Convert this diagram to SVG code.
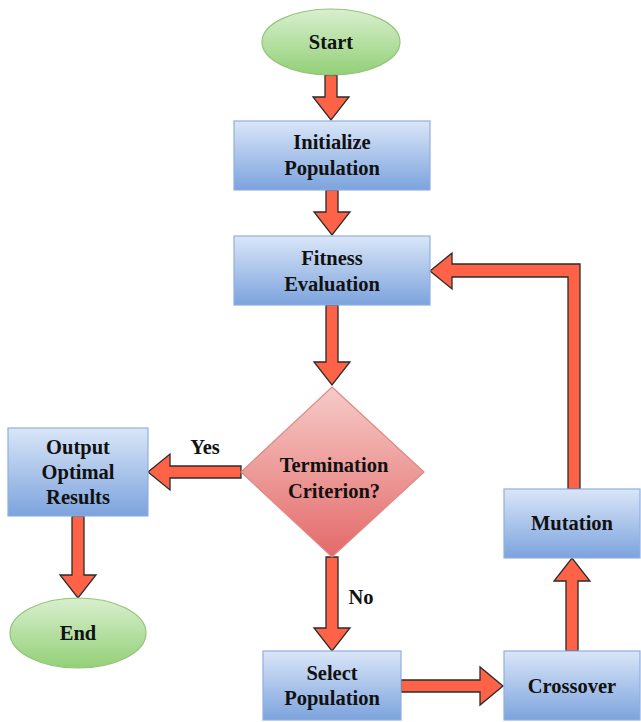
<svg xmlns="http://www.w3.org/2000/svg" width="641" height="722" viewBox="0 0 641 722">
<defs>
<linearGradient id="gBox" x1="0" y1="0" x2="0" y2="1">
<stop offset="0" stop-color="#dae6f8"/>
<stop offset="1" stop-color="#7ca3dd"/>
</linearGradient>
<linearGradient id="gEll" x1="0" y1="0" x2="0" y2="1">
<stop offset="0" stop-color="#d9efcf"/>
<stop offset="1" stop-color="#93d077"/>
</linearGradient>
<linearGradient id="gDia" x1="0" y1="0" x2="0" y2="1">
<stop offset="0" stop-color="#f6cbc8"/>
<stop offset="1" stop-color="#e36a69"/>
</linearGradient>
</defs>
<style>
.box{fill:url(#gBox);stroke:#8fb0df;stroke-width:1.2}
.ell{fill:url(#gEll);stroke:#93c479;stroke-width:1.2}
.dia{fill:url(#gDia);stroke:#dc8a86;stroke-width:1.2}
.arr{fill:#fe6347;stroke:#2b2b2b;stroke-width:1.3;stroke-linejoin:miter}
text{font-family:"Liberation Serif","Times New Roman",serif;font-weight:bold;font-size:20.5px;fill:#111;text-anchor:middle;dominant-baseline:central}
</style>
<rect width="641" height="722" fill="#ffffff"/>
<g id="connectors">
<polygon class="arr" points="325,75 337,75 337,97 349,97 331,120 313,97 325,97"/>
<polygon class="arr" points="326,190 338,190 338,212 350,212 332,235 314,212 326,212"/>
<polygon class="arr" points="326,305 338,305 338,362 350,362 332,385 314,362 326,362"/>
<polygon class="arr" points="326,557 338,557 338,628 350,628 332,651 314,628 326,628"/>
<polygon class="arr" points="241,466 241,478 170,478 170,490 148,472 170,454 170,466"/>
<polygon class="arr" points="72,516 84,516 84,575 96,575 78,598 60,575 72,575"/>
<polygon class="arr" points="401,680 401,692 480,692 480,705 503,686 480,667 480,680"/>
<polygon class="arr" points="566,651 578,651 578,581 590,581 572,558 554,581 566,581"/>
<polygon class="arr" points="580,489 580,264 452,264 452,253 430,271 452,289 452,277 568,277 568,489"/>
<text x="205" y="447">Yes</text>
<text x="361" y="597">No</text>
</g>
<g id="start">
<ellipse class="ell" cx="331" cy="42" rx="69" ry="33"/>
<text x="331" y="42">Start</text>
</g>
<g id="init">
<rect class="box" x="234" y="121" width="196" height="69"/>
<text x="332" y="142">Initialize</text>
<text x="332" y="168">Population</text>
</g>
<g id="fitness">
<rect class="box" x="234" y="236" width="196" height="69"/>
<text x="332" y="258">Fitness</text>
<text x="332" y="284">Evaluation</text>
</g>
<g id="termination">
<polygon class="dia" points="332,387 424,472 332,557 241,472"/>
<text x="334" y="465">Termination</text>
<text x="334" y="491">Criterion?</text>
</g>
<g id="output">
<rect class="box" x="8" y="428" width="140" height="88"/>
<text x="78" y="447">Output</text>
<text x="78" y="472">Optimal</text>
<text x="78" y="497">Results</text>
</g>
<g id="end">
<ellipse class="ell" cx="78" cy="633" rx="68" ry="35"/>
<text x="78" y="633">End</text>
</g>
<g id="select">
<rect class="box" x="263" y="651" width="138" height="69"/>
<text x="332" y="673">Select</text>
<text x="332" y="698">Population</text>
</g>
<g id="crossover">
<rect class="box" x="504" y="651" width="136" height="69"/>
<text x="572" y="686">Crossover</text>
</g>
<g id="mutation">
<rect class="box" x="504" y="489" width="136" height="69"/>
<text x="572" y="523">Mutation</text>
</g>
</svg>
